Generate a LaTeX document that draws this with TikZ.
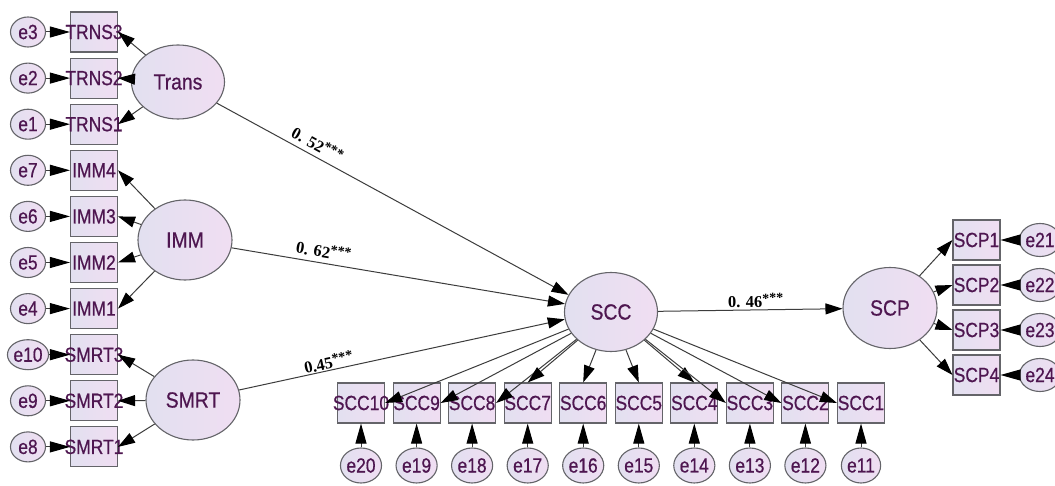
\documentclass[tikz,border=0pt]{standalone}
\usepackage{fontspec}
\setmainfont{Liberation Sans}
\newfontfamily\obsfont[FakeStretch=0.85,FakeBold=0.6]{Liberation Sans}
\newfontfamily\latfont[FakeStretch=0.88,FakeBold=0.6]{Liberation Sans}
\newfontfamily\coeffont{Liberation Serif}
\usetikzlibrary{arrows.meta,shapes.geometric}
\definecolor{txt}{RGB}{78,22,80}
\definecolor{edgec}{RGB}{100,100,105}
\definecolor{fillA}{RGB}{226,224,240}
\definecolor{fillB}{RGB}{240,222,242}
\definecolor{conn}{RGB}{60,60,60}
\newcommand\mylbl[1]{\makebox[0pt]{#1}}
\newcommand\stars{\raisebox{4pt}{\fontsize{14}{14}\selectfont ***}}
\tikzset{
 shp/.style={draw=edgec, line width=1.1pt, left color=fillA, right color=fillB, inner sep=0pt, text=txt},
 latent/.style={shp, ellipse, font=\latfont\fontsize{22}{24}\selectfont},
 obs/.style={shp, rectangle, minimum width=47pt, minimum height=40pt, font=\obsfont\fontsize{20.5}{22}\selectfont},
 err/.style={shp, ellipse, font=\obsfont\fontsize{20.5}{22}\selectfont},
 errL/.style={err, minimum width=35pt, minimum height=30pt},
 errB/.style={err, minimum width=31pt, minimum height=35pt},
 errR/.style={err, minimum width=34pt, minimum height=33pt},
 arr/.style={draw=conn, line width=1pt, -{Triangle[length=17pt,width=11pt,fill=black,color=black]}},
 earr/.style={draw=conn, line width=1pt, -{Triangle[length=20pt,width=11pt,fill=black,color=black]}},
 coef/.style={font=\coeffont\bfseries\fontsize{16.5}{18}\selectfont, text=black, sloped, inner sep=0pt},
}
\begin{document}
\begin{tikzpicture}[x=1pt,y=-1pt]
\useasboundingbox[fill=white] (0,0) rectangle (1055,486);

% latent variables
\node[latent, minimum width=93pt, minimum height=74pt] (trans) at (178,82) {Trans};
\node[latent, minimum width=94pt, minimum height=80pt] (imm) at (185,240) {IMM};
\node[latent, minimum width=94pt, minimum height=80pt] (smrt) at (193,400) {SMRT};
\node[latent, minimum width=93pt, minimum height=79pt] (scc) at (611,312) {SCC};
\node[latent, minimum width=94pt, minimum height=81pt] (scp) at (890,308) {SCP};

% left indicators
\foreach \n/\y/\e in {TRNS3/32/e3, TRNS2/78.1/e2, TRNS1/124.2/e1,
  IMM4/170.3/e7, IMM3/216.4/e6, IMM2/262.5/e5, IMM1/308.6/e4,
  SMRT3/354.7/e10, SMRT2/400.8/e9, SMRT1/446.9/e8}{
  \node[obs] (\n) at (94,\y) {\mylbl{\n}};
  \node[errL] (\e) at (28,\y) {\e};
}
% bottom indicators
\foreach \n/\x/\e in {SCC10/361/e20, SCC9/416.6/e19, SCC8/472.1/e18, SCC7/527.7/e17,
  SCC6/583.2/e16, SCC5/638.8/e15, SCC4/694.3/e14, SCC3/749.9/e13, SCC2/805.4/e12, SCC1/861/e11}{
  \node[obs] (\n) at (\x,403) {\mylbl{\n}};
  \node[errB] (\e) at (\x,465.5) {\e};
}
% right indicators
\foreach \n/\y/\e in {SCP1/240/e21, SCP2/285/e22, SCP3/330/e23, SCP4/375/e24}{
  \node[obs] (\n) at (976.5,\y) {\mylbl{\n}};
  \node[errR] (\e) at (1040,\y) {\e};
}

% error arrows
\foreach \n/\e in {TRNS3/e3, TRNS2/e2, TRNS1/e1, IMM4/e7, IMM3/e6, IMM2/e5, IMM1/e4,
  SMRT3/e10, SMRT2/e9, SMRT1/e8}{
  \draw[earr] (\e) -- (\n.west);
}
\foreach \n/\e in {SCC10/e20, SCC9/e19, SCC8/e18, SCC7/e17, SCC6/e16, SCC5/e15,
  SCC4/e14, SCC3/e13, SCC2/e12, SCC1/e11}{
  \draw[earr] (\e) -- (\n.south);
}
\foreach \n/\e in {SCP1/e21, SCP2/e22, SCP3/e23, SCP4/e24}{
  \draw[earr] (\e) -- (\n.east);
}

% loadings
\foreach \n in {TRNS3, TRNS2, TRNS1}{ \draw[arr] (trans) -- (\n.east); }
\foreach \n in {IMM4, IMM3, IMM2, IMM1}{ \draw[arr] (imm) -- (\n.east); }
\foreach \n in {SMRT3, SMRT2, SMRT1}{ \draw[arr] (smrt) -- (\n.east); }
\foreach \n/\a in {SCC10/east, SCC9/east, SCC8/east, SCC7/north, SCC6/north,
  SCC5/north, SCC4/north, SCC3/west, SCC2/west, SCC1/west}{
  \draw[arr] (scc) -- (\n.\a);
}
\foreach \n in {SCP1, SCP2, SCP3, SCP4}{ \draw[arr] (scp) -- (\n.west); }

% structural paths
\draw[arr] (trans) -- (scc.158) node[coef, pos=0.27, above=5pt] {0. 52\stars};
\draw[arr] (imm) -- (scc.170) node[coef, pos=0.27, above=5pt] {0. 62\stars};
\draw[arr] (smrt) -- (scc.189) node[coef, pos=0.28, above=1pt] {0.45\stars};
\draw[arr] (scc) -- (scp) node[coef, pos=0.53, above=2pt] {0. 46\stars};
\end{tikzpicture}
\end{document}
